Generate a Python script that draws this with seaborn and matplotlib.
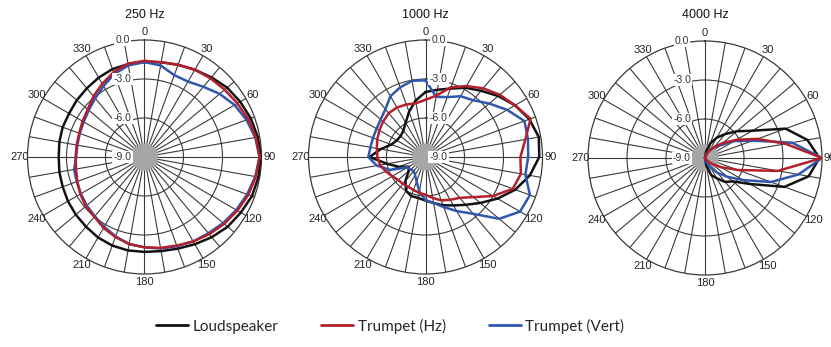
import numpy as np
import pandas as pd
import matplotlib
matplotlib.use("Agg")
import matplotlib.pyplot as plt
import seaborn as sns
from matplotlib.lines import Line2D
from matplotlib.patches import Circle

sns.set_theme(style="white")
plt.rcParams["font.family"] = ["Liberation Sans", "DejaVu Sans"]

# Measurement angles (degrees, clockwise from front)
ANGLES_DEG = [0, 10, 20, 30, 40, 50, 60, 70, 80, 90, 100, 110,
              120, 130, 140, 150, 160, 170, 180, 190, 200, 210, 220, 230,
              240, 250, 260, 270, 280, 290, 300, 310, 320, 330, 340, 350]

FREQ_TITLES = ["250 Hz", "1000 Hz", "4000 Hz"]
SERIES = ["Loudspeaker", "Trumpet (Hz)", "Trumpet (Vert)"]
RING_VALUES = [0.0, -3.0, -6.0, -9.0]
ANGLE_LABELS = ["0", "30", "60", "90", "120", "150", "180", "210", "240", "270", "300", "330"]

# Relative level (dB) per angle
LOUDSPEAKER_250 = [-1.7, -1.6, -1.45, -1.25, -1.0, -0.7, -0.5, -0.3, -0.15, -0.05, -0.1, -0.2,
                   -0.45, -0.65, -0.95, -1.25, -1.5, -1.65, -1.7, -1.7, -1.75, -1.85, -2.0, -2.1,
                   -2.2, -2.3, -2.35, -2.4, -2.35, -2.3, -2.3, -2.2, -2.1, -1.95, -1.8, -1.75]
TRUMPET_H_250 = [-1.6, -1.6, -1.45, -1.25, -1.1, -0.95, -0.75, -0.5, -0.3, -0.15, -0.3, -0.5,
                 -0.75, -1.0, -1.25, -1.5, -1.75, -1.9, -2.05, -2.2, -2.45, -2.7, -3.0, -3.1,
                 -3.3, -3.5, -3.65, -3.7, -3.7, -3.65, -3.5, -3.3, -2.9, -2.5, -2.05, -1.7]
TRUMPET_V_250 = [-1.7, -1.85, -2.3, -2.3, -1.95, -1.45, -1.0, -0.65, -0.35, -0.15, -0.35, -0.6,
                 -0.85, -1.1, -1.35, -1.5, -1.7, -1.85, -2.05, -2.2, -2.5, -2.8, -3.05, -3.2,
                 -3.35, -3.45, -3.5, -3.75, -3.75, -3.7, -3.6, -3.4, -3.1, -2.7, -2.2, -1.85]

LOUDSPEAKER_1000 = [-4.0, -3.75, -3.4, -2.85, -2.35, -1.7, -1.05, -0.5, -0.15, -0.25, -0.85, -1.65,
                    -2.6, -3.5, -4.2, -4.7, -5.05, -5.4, -5.65, -5.8, -5.8, -6.0, -6.6, -7.3,
                    -7.5, -6.8, -6.0, -4.7, -5.5, -6.2, -6.45, -6.5, -6.35, -5.95, -5.3, -4.6]
TRUMPET_H_1000 = [-4.6, -4.2, -3.3, -2.7, -2.1, -1.55, -1.05, -0.4, -1.2, -1.7, -1.55, -1.85,
                  -3.0, -4.2, -4.9, -5.2, -5.45, -5.8, -6.1, -6.2, -6.3, -6.35, -6.3, -6.25,
                  -6.05, -5.75, -5.45, -5.3, -5.2, -5.05, -4.9, -4.75, -4.6, -4.6, -4.7, -4.8]
TRUMPET_V_1000 = [-3.1, -4.3, -4.1, -3.6, -3.3, -2.6, -1.75, -0.9, -1.0, -1.1, -1.2, -0.45,
                  -0.6, -1.6, -3.3, -4.2, -4.9, -5.4, -5.7, -6.3, -7.0, -7.4, -7.6, -7.5,
                  -7.4, -6.1, -5.2, -4.6, -4.7, -4.7, -4.65, -4.5, -4.2, -3.6, -3.3, -3.05]

LOUDSPEAKER_4000 = [-9.0, -8.5, -7.8, -7.2, -6.6, -5.8, -4.8, -2.4, -1.0, -0.2, -0.9, -2.5,
                    -5.0, -6.2, -6.6, -7.2, -7.6, -8.4, -9.0, -9.0, -9.0, -9.0, -9.0, -9.0,
                    -9.0, -9.0, -9.0, -9.0, -9.0, -9.0, -9.0, -9.0, -9.0, -9.0, -9.0, -9.0]
TRUMPET_H_4000 = [-9.0, -9.0, -8.8, -8.4, -7.9, -7.2, -6.2, -4.7, -2.7, 0.0, -3.3, -6.3,
                  -7.6, -8.3, -8.7, -9.0, -9.0, -9.0, -9.0, -9.0, -9.0, -9.0, -9.0, -9.0,
                  -9.0, -9.0, -9.0, -9.0, -9.0, -9.0, -9.0, -9.0, -9.0, -9.0, -9.0, -9.0]
TRUMPET_V_4000 = [-9.0, -9.0, -8.7, -8.3, -7.9, -7.5, -6.4, -5.1, -2.2, 0.0, -1.7, -3.6,
                  -5.6, -6.75, -7.5, -8.2, -8.7, -9.0, -9.0, -9.0, -9.0, -9.0, -9.0, -9.0,
                  -9.0, -9.0, -9.0, -9.0, -9.0, -9.0, -9.0, -9.0, -9.0, -9.0, -9.0, -9.0]

PANELS = [
    (LOUDSPEAKER_250, TRUMPET_H_250, TRUMPET_V_250),
    (LOUDSPEAKER_1000, TRUMPET_H_1000, TRUMPET_V_1000),
    (LOUDSPEAKER_4000, TRUMPET_H_4000, TRUMPET_V_4000),
]

PALETTE = {"Loudspeaker": "#121212", "Trumpet (Hz)": "#b3202b", "Trumpet (Vert)": "#2f58ad"}
DRAW_ORDER = ["Loudspeaker", "Trumpet (Vert)", "Trumpet (Hz)"]
GRID_COLOR = "#3a3a3a"

W, H = 831, 347
R = 117
CENTERS = [(144.5, 157), (425.5, 157), (705, 158)]
RING_LABEL_DX = [-22, 13, -23]


def panel_frame(curves):
    rows = []
    for name, values in zip(SERIES, curves):
        # close the loop back at 360 degrees
        angs = ANGLES_DEG + [360]
        vals = list(values) + [values[0]]
        for a, v in zip(angs, vals):
            rows.append({"theta": np.deg2rad(a), "level": v, "series": name})
    return pd.DataFrame(rows)


fig = plt.figure(figsize=(W / 100, H / 100), dpi=100)
fig.patch.set_facecolor("white")

for i, (title, curves) in enumerate(zip(FREQ_TITLES, PANELS)):
    cx, cy = CENTERS[i]
    rect = [(cx - R) / W, (H - cy - R) / H, 2 * R / W, 2 * R / H]
    ax = fig.add_axes(rect, projection="polar")
    ax.set_facecolor("white")

    df = panel_frame(curves)
    sns.lineplot(data=df, x="theta", y="level", hue="series", hue_order=DRAW_ORDER,
                 palette=PALETTE, sort=False, estimator=None, legend=False,
                 linewidth=1.8, ax=ax, zorder=3)

    ax.set_theta_zero_location("N")
    ax.set_theta_direction(-1)
    ax.set_ylim(-9, 0)
    ax.set_xticks(np.deg2rad(ANGLES_DEG))
    ax.set_xticklabels([str(a) if str(a) in ANGLE_LABELS else "" for a in ANGLES_DEG])
    ax.set_yticks([-6, -3])
    ax.set_yticklabels([])
    ax.grid(True, color=GRID_COLOR, linewidth=0.8)
    ax.spines["polar"].set_color(GRID_COLOR)
    ax.spines["polar"].set_linewidth(0.9)
    ax.tick_params(axis="x", length=0, pad=-1.5, labelsize=8, colors="#222222")
    ax.tick_params(axis="y", length=0)
    ax.set_xlabel("")
    ax.set_ylabel("")

    # grey hub where the spokes converge
    ax.add_patch(Circle((0.5, 0.5), 0.058, transform=ax.transAxes,
                        facecolor="#a6a6a6", edgecolor="none", zorder=1))

    dx = RING_LABEL_DX[i] / (2 * R)
    for v in RING_VALUES:
        y = 0.5 + 0.5 * (v + 9) / 9
        ax.text(0.5 + dx, y, f"{v:.1f}", transform=ax.transAxes, ha="center", va="center",
                fontsize=7.5, color="#333333", zorder=6,
                bbox=dict(boxstyle="square,pad=0.12", facecolor="white", edgecolor="none"))

    ax.text(0.5, 0.5 + (cy - 15) / (2 * R), title, transform=ax.transAxes,
            ha="center", va="center", fontsize=9, color="#111111")

handles = [Line2D([0], [0], color=PALETTE[s], linewidth=2) for s in SERIES]
fig.legend(handles, SERIES, loc="center", bbox_to_anchor=(390 / W, 1 - 326 / H),
           ncol=3, frameon=False, handlelength=2.1, handletextpad=0.3, columnspacing=2.8,
           prop={"family": ["Lato", "DejaVu Sans"], "size": 11})

fig.savefig("out.png", dpi=100, facecolor="white")
